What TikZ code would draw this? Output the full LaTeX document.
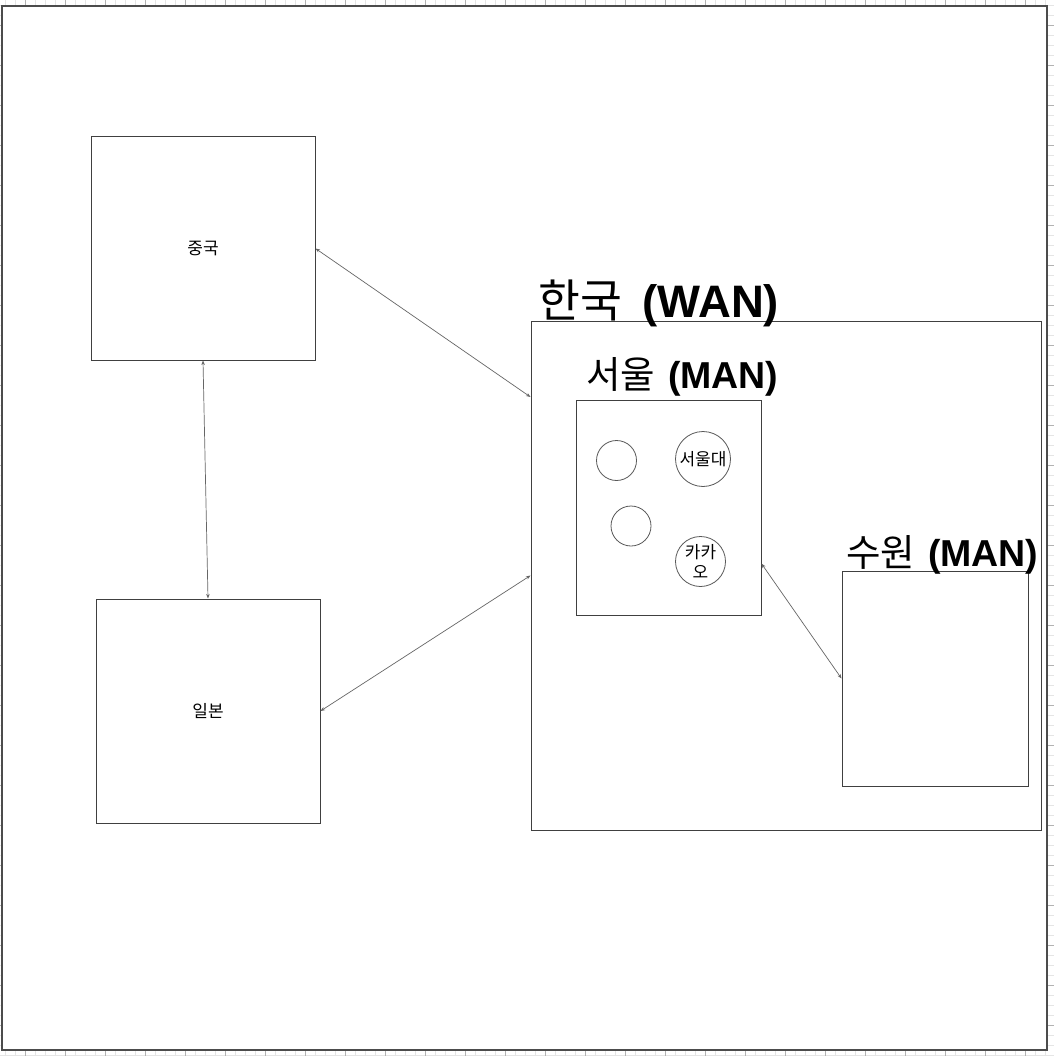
\documentclass[tikz,border=0pt]{standalone}
\usepackage{fontspec}
\setmainfont{Noto Sans CJK KR}
\newfontfamily\latinfont{Liberation Sans}
\usetikzlibrary{arrows.meta,calc}

\tikzset{
  box/.style={draw=black!75, line width=1, fill=white, inner sep=0, font=\fontsize{17}{20}\selectfont},
  hub/.style={draw=black!65, line width=0.8, circle, inner sep=-3pt, align=center, font=\fontsize{17}{20}\selectfont},
  netlabel/.style={anchor=base west, inner sep=0, font=\fontsize{37.5}{44}\selectfont},
  link/.style={{Stealth[length=4.5pt,width=3.5pt]}-{Stealth[length=4.5pt,width=3.5pt]}, draw=black!60, line width=0.7}
}
\newcommand\netkind[1]{\hspace{0.12em}{\latinfont\bfseries(#1)}}

\begin{document}
\begin{tikzpicture}[x=1pt, y=-1pt]
\useasboundingbox (0,0) rectangle (1054,1056);

  % page grid
  \foreach \g in {5,15,...,1055} {
    \draw[black!10, line width=0.8] (\g,0) -- (\g,1056);
    \draw[black!10, line width=0.8] (0,\g) -- (1054,\g);
  }
  \foreach \g in {25,65,...,1055} {
    \draw[black!30, line width=0.8] (\g,0) -- (\g,1056);
    \draw[black!30, line width=0.8] (0,\g) -- (1054,\g);
  }
  \draw[draw=black!70, fill=white, line width=1.2] (2,6) rectangle (1047,1050);

  % countries
\node[box, minimum width=224, minimum height=223] (china) at (203,248.5) {중국};
\node[box, minimum width=224, minimum height=224] (japan) at (208,711) {일본};

  % korea
\node[box, minimum width=510, minimum height=509] (wan) at (786,575.5) {};
\node[netlabel, font=\fontsize{45.5}{54}\selectfont] (wanname) at (538,317) {한국 \hspace{5pt}\netkind{WAN}};
\node[box, minimum width=185, minimum height=215] (seoul) at (668.5,507.5) {};
\node[netlabel] (seoulname) at (586,388) {서울 \netkind{MAN}};
\node[box, minimum width=186, minimum height=215] (suwon) at (935,678.5) {};
\node[netlabel] (suwonname) at (846,566) {수원 \netkind{MAN}};

  % hosts
\node[hub, minimum size=40] (hosta) at (616.5,460.5) {};
\node[hub, minimum size=40] (hostb) at (631,526) {};
\node[hub, minimum size=55] (snu) at (703,459) {서울대};
\node[hub, minimum size=50] (kakao) at (700.5,561.5) {카카\\오};

  % links
\draw[link] (china.east) -- ($(wan.north west)!0.15!(wan.south west)$);
\draw[link] (china.south) -- (japan.north);
\draw[link] (japan.east) -- (wan.west);
\draw[link] ($(seoul.north east)!0.76!(seoul.south east)$) -- (suwon.west);
\end{tikzpicture}
\end{document}
